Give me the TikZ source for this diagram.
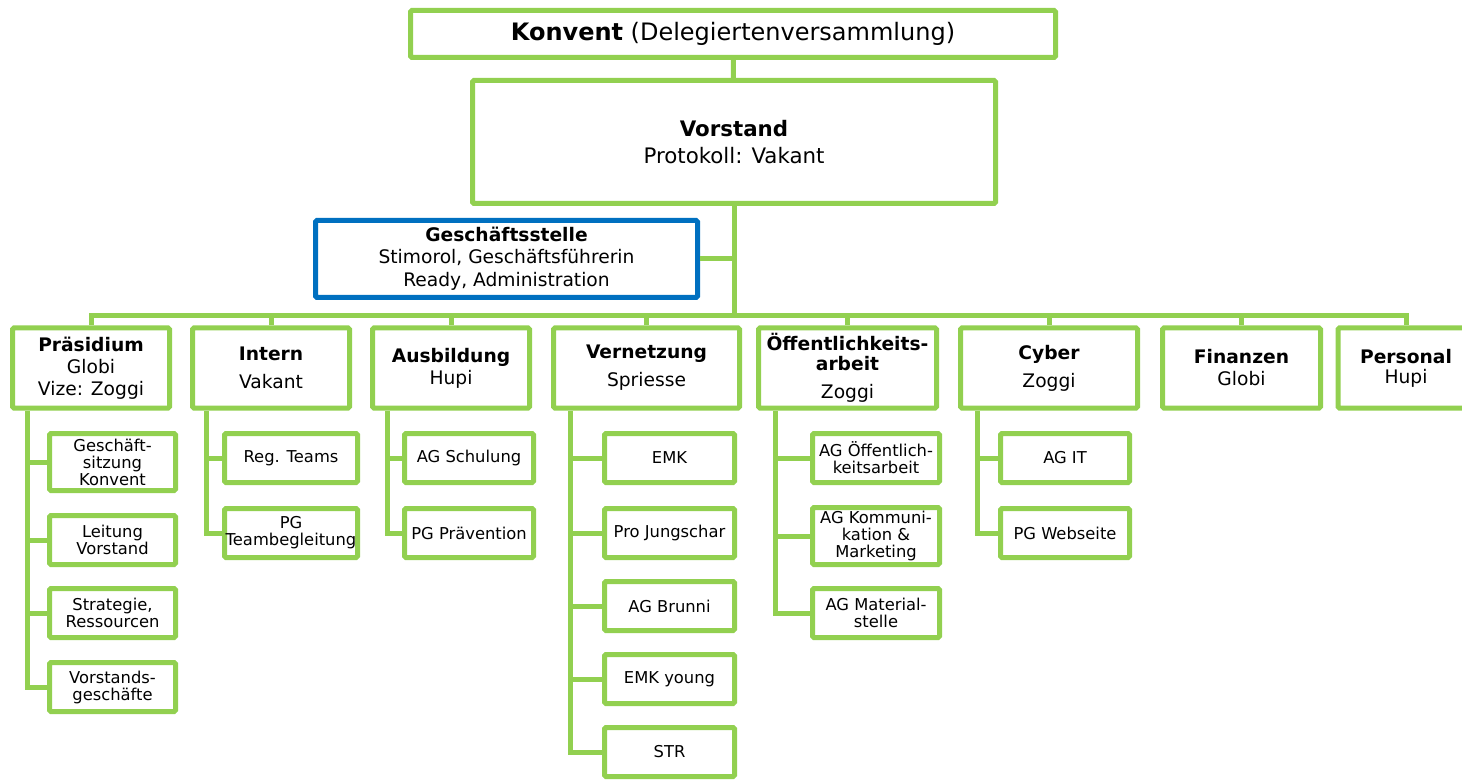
\documentclass[tikz,border=0pt]{standalone}
\usepackage{fontspec}
\setmainfont{DejaVu Sans}
\definecolor{leaf}{HTML}{92D050}
\definecolor{ocean}{HTML}{0070C0}

\begin{document}
\begin{tikzpicture}[
        x=0.75pt, y=-0.75pt,
        box/.style={draw=leaf, line width=3.75pt, fill=white, align=center, inner sep=0pt, rounded corners=1pt},
        assembly/.style={box, minimum width=483.75pt, minimum height=35.25pt, font=\fontsize{18}{21}\selectfont},
        board/.style={box, minimum width=392.25pt, minimum height=92.25pt, font=\fontsize{16}{20}\selectfont},
        office/.style={box, draw=ocean, minimum width=286.5pt, minimum height=57.75pt, font=\fontsize{14}{16.5}\selectfont},
        dept/.style={box, minimum width=117.75pt, minimum height=60pt, font=\fontsize{14}{16.5}\selectfont},
        sub/.style={box, minimum height=36.75pt, font=\fontsize{12.25}{12.75}\selectfont},
        tall/.style={sub, minimum height=42.75pt},
        link/.style={draw=leaf, line width=3.75pt}]

      \useasboundingbox (0,0) rectangle (1462,780);
      \clip (0,0) rectangle (1462,780);

      \node[assembly] (konv) at (733,34) {\textbf{Konvent} (Delegiertenversammlung)};
      \node[board] (vor) at (734,142) {\textbf{Vorstand}\\Protokoll: Vakant};
      \node[office] (gst) at (506.5,259) {\textbf{Geschäftsstelle}\\Stimorol, Geschäftsführerin\\[1pt]Ready, Administration};
      \coordinate (bus) at (734,316);

      \node[dept] (praes) at (91,368) {\textbf{Präsidium}\\Globi\\Vize: Zoggi};
      \node[dept] (intern) at (271,368) {\textbf{Intern}\\[4.5pt]Vakant};
      \node[dept] (ausb) at (451,368) {\textbf{Ausbildung}\\Hupi};
      \node[dept, minimum width=139.5pt] (vern) at (646.5,368) {\textbf{Vernetzung}\\[4.5pt]Spriesse};
      \node[dept, minimum width=133.5pt] (oeff) at (847.5,368) {\textbf{Öffentlichkeits-}\\[-2pt]\textbf{arbeit}\\[5pt]Zoggi};
      \node[dept, minimum width=132.75pt] (cyber) at (1049,368) {\textbf{Cyber}\\[4.5pt]Zoggi};
      \node[dept, minimum width=118.5pt] (fin) at (1241.5,368) {\textbf{Finanzen}\\Globi};
      \node[dept, minimum width=102pt] (pers) at (1406,368) {\textbf{Personal}\\[-1.5pt]Hupi};

      \node[tall, minimum width=94.5pt] (pr1) at (112.5,462) {Geschäft-\\sitzung\\Konvent};
      \node[sub, minimum width=94.5pt] (pr2) at (112.5,540) {Leitung\\Vorstand};
      \node[sub, minimum width=94.5pt] (pr3) at (112.5,613) {Strategie,\\Ressourcen};
      \node[sub, minimum width=94.5pt] (pr4) at (112.5,687) {Vorstands-\\geschäfte};

      \node[sub, minimum width=99.75pt] (in1) at (291,458) {Reg. Teams};
      \node[sub, minimum width=99.75pt] (in2) at (291,533) {PG\\Teambegleitung};

      \node[sub, minimum width=96.75pt] (au1) at (469,458) {AG Schulung};
      \node[sub, minimum width=96.75pt] (au2) at (469,533) {PG Prävention};

      \node[sub, minimum width=97.5pt] (ve1) at (669.5,458) {EMK};
      \node[sub, minimum width=97.5pt] (ve2) at (669.5,533) {Pro Jungschar};
      \node[sub, minimum width=97.5pt] (ve3) at (669.5,606) {AG Brunni};
      \node[sub, minimum width=97.5pt] (ve4) at (669.5,679) {EMK young};
      \node[sub, minimum width=97.5pt] (ve5) at (669.5,752) {STR};

      \node[sub, minimum width=95.25pt] (oe1) at (876,458) {AG Öffentlich-\\keitsarbeit};
      \node[tall, minimum width=95.25pt] (oe2) at (876,536) {AG Kommuni-\\kation \&\\Marketing};
      \node[sub, minimum width=95.25pt] (oe3) at (876,613) {AG Material-\\stelle};

      \node[sub, minimum width=96.75pt] (cy1) at (1065,458) {AG IT};
      \node[sub, minimum width=96.75pt] (cy2) at (1065,533) {PG Webseite};

      \draw[link] (konv) -- (vor);
      \draw[link] (vor) -- (bus);
      \draw[link] (gst) -- (gst -| bus);
      \draw[link] (praes.north) |- (bus) -| (pers.north);
      \foreach \d in {intern, ausb, vern, oeff, cyber, fin}
        \draw[link] (\d.north) -- (\d.north |- bus);
      \foreach \d/\c/\s in {praes/pr1/13.25, praes/pr2/13.25, praes/pr3/13.25, praes/pr4/13.25,
                            intern/in1/12.5, intern/in2/12.5, ausb/au1/13, ausb/au2/13,
                            vern/ve1/14.5, vern/ve2/14.5, vern/ve3/14.5, vern/ve4/14.5, vern/ve5/14.5,
                            oeff/oe1/14.5, oeff/oe2/14.5, oeff/oe3/14.5, cyber/cy1/14.5, cyber/cy2/14.5}
        \draw[link] (\c.west) -| ([xshift=\s pt]\d.south west);

    \end{tikzpicture}
\end{document}
